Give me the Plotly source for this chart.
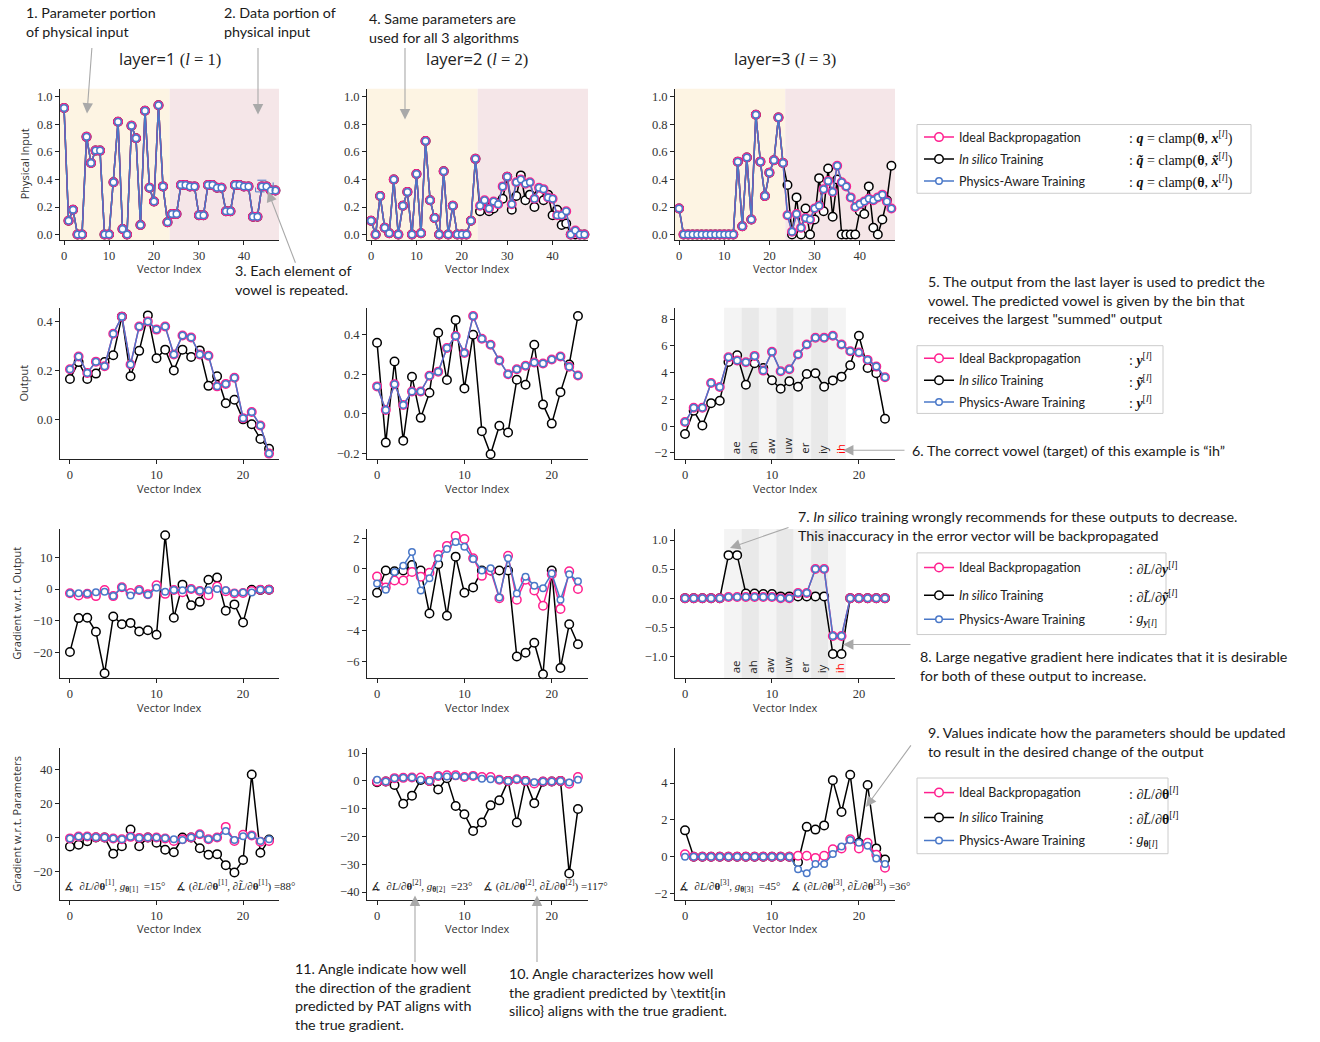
import plotly.graph_objects as go
from plotly.subplots import make_subplots

W, H = 1320, 1042

# ---------------- data ----------------
idx48 = list(range(48))
idx24 = list(range(24))

# Row 1: physical input (parameter portion 0..23, data portion 24..47)
in1_param = [0.92, 0.10, 0.18, 0.00, 0.00, 0.71, 0.52, 0.61, 0.61, 0.00, 0.00, 0.38,
             0.82, 0.04, 0.00, 0.79, 0.70, 0.07, 0.90, 0.34, 0.24, 0.94, 0.35, 0.09]
in1_data = [0.15, 0.15, 0.36, 0.36, 0.35, 0.35, 0.14, 0.14, 0.36, 0.36, 0.34, 0.34,
            0.17, 0.17, 0.36, 0.36, 0.35, 0.35, 0.13, 0.13, 0.35, 0.35, 0.32, 0.32]

in2_param = [0.10, 0.00, 0.28, 0.05, 0.01, 0.40, 0.00, 0.21, 0.31, 0.00, 0.44, 0.01,
             0.68, 0.25, 0.12, 0.00, 0.46, 0.00, 0.21, 0.00, 0.00, 0.00, 0.10, 0.55]
in2_data_ideal = [0.21, 0.25, 0.19, 0.24, 0.22, 0.35, 0.42, 0.22, 0.38, 0.40, 0.37, 0.38,
                  0.26, 0.34, 0.33, 0.27, 0.26, 0.14, 0.14, 0.17, 0.00, 0.03, 0.00, 0.00]
in2_data_insilico = [0.17, 0.24, 0.17, 0.19, 0.23, 0.26, 0.42, 0.18, 0.28, 0.43, 0.25, 0.29,
                     0.20, 0.29, 0.25, 0.29, 0.14, 0.18, 0.07, 0.08, 0.00, 0.00, 0.00, 0.00]

in3_param = [0.19, 0.00, 0.00, 0.00, 0.00, 0.00, 0.00, 0.00, 0.00, 0.00, 0.00, 0.00,
             0.00, 0.53, 0.06, 0.56, 0.11, 0.87, 0.53, 0.28, 0.45, 0.54, 0.85, 0.52]
in3_data_ideal = [0.14, 0.02, 0.15, 0.05, 0.12, 0.11, 0.19, 0.21, 0.33, 0.39, 0.31, 0.50,
                  0.38, 0.35, 0.27, 0.20, 0.22, 0.24, 0.26, 0.25, 0.27, 0.29, 0.24, 0.19]
in3_data_insilico = [0.36, 0.00, 0.27, 0.00, 0.19, 0.00, 0.11, 0.41, 0.17, 0.48, 0.13, 0.40,
                     0.00, 0.00, 0.00, 0.00, 0.17, 0.15, 0.35, 0.05, 0.00, 0.11, 0.25, 0.50]

# Row 2: outputs
out1_ideal = [0.205, 0.257, 0.19, 0.236, 0.217, 0.35, 0.42, 0.224, 0.38, 0.40, 0.367, 0.38,
              0.265, 0.343, 0.335, 0.265, 0.26, 0.135, 0.145, 0.17, 0.005, 0.03, -0.025, -0.14]
out1_insilico = [0.165, 0.234, 0.165, 0.187, 0.234, 0.262, 0.42, 0.176, 0.28, 0.425, 0.25, 0.285,
                 0.20, 0.285, 0.255, 0.282, 0.137, 0.176, 0.066, 0.08, 0.0, -0.02, -0.08, -0.12]
out2_ideal = [0.139, 0.02, 0.15, 0.045, 0.113, 0.113, 0.193, 0.213, 0.333, 0.394, 0.308, 0.495,
              0.38, 0.349, 0.27, 0.20, 0.226, 0.243, 0.26, 0.255, 0.275, 0.29, 0.238, 0.194]
out2_insilico = [0.36, -0.145, 0.265, -0.135, 0.188, -0.02, 0.107, 0.41, 0.171, 0.475, 0.129, 0.40,
                 -0.087, -0.204, -0.06, -0.094, 0.173, 0.147, 0.349, 0.047, -0.049, 0.11, 0.25, 0.495]
out3_ideal = [0.31, 1.37, 1.38, 3.23, 2.93, 5.15, 4.9, 4.78, 5.25, 4.15, 5.55, 4.1,
              4.25, 5.35, 6.1, 6.6, 6.6, 6.75, 6.1, 5.6, 5.5, 4.95, 4.45, 3.65]
out3_insilico = [-0.59, 1.15, 0.05, 1.72, 1.9, 4.8, 5.3, 3.1, 4.7, 4.35, 3.43, 2.8,
                 3.35, 2.95, 3.9, 3.95, 2.95, 3.42, 3.7, 4.55, 6.75, 4.35, 3.95, 0.55]

# Row 3: gradient w.r.t. output
gout1_ideal = [-1.3, -2.0, -1.5, -2.2, -0.3, -2.2, 0.6, -1.2, -0.3, -1.6, 1.2, -1.5,
               -0.3, -1.0, 0.0, -0.6, -1.9, 0.8, -0.7, -1.4, -1.2, -0.6, -0.2, -0.2]
gout1_pat = [-1.3, -1.3, -1.4, -1.0, -0.8, -2.2, 0.6, -2.0, -0.4, -1.8, 0.4, -0.8,
             -0.3, -0.4, 0.0, -0.5, -0.4, 0.0, -0.4, -1.2, -1.1, -1.1, -0.2, -0.2]
gout1_insilico = [-19.7, -9.1, -9.0, -13.4, -26.4, -8.6, -11.0, -10.6, -13.3, -12.9, -14.3, 16.9,
                  -9.0, 1.4, -5.1, -4.0, 2.9, 3.6, -6.8, -4.8, -10.5, -0.2, -0.3, -0.2]
gout2_ideal = [-0.49, -1.2, -0.75, -0.75, -0.2, -0.5, -0.25, 0.9, 1.5, 2.15, 1.95, 0.7,
               -0.45, -0.1, -1.9, 0.85, -2.0, -0.7, -1.4, -2.4, -0.35, -2.6, -0.15, -1.3]
gout2_pat = [-0.94, -1.35, -0.2, 0.2, 1.1, -1.4, -0.6, 0.7, 1.3, 1.75, 1.45, 0.65,
             -0.1, 0.05, -1.85, 0.7, -1.6, -0.5, -1.1, -1.25, -0.3, -2.0, -0.35, -0.8]
gout2_insilico = [-1.55, -0.1, -0.15, -0.1, 0.25, -0.1, -2.9, 0.3, -3.05, 0.8, -1.55, -1.2,
                  -0.1, -0.1, -0.1, -0.1, -5.7, -5.45, -4.8, -6.85, -0.1, -6.45, -3.6, -4.9]
gout3_ideal = [0, 0, 0, 0, 0, 0.02, 0.02, 0.02, 0.02, 0.02, 0.02, 0.0,
               0.0, 0.09, 0.09, 0.5, 0.5, -0.65, -0.65, 0, 0, 0, 0, 0]
gout3_pat = [0, 0, 0, 0, 0, 0.02, 0.02, 0.02, 0.02, 0.02, 0.02, 0.0,
             0.0, 0.09, 0.09, 0.5, 0.5, -0.65, -0.65, 0, 0, 0, 0, 0]
gout3_insilico = [0, 0, 0, 0, 0, 0.74, 0.74, 0.08, 0.08, 0.07, 0.07, 0.03,
                  0.03, 0.03, 0.03, 0.03, 0.03, -0.96, -0.96, 0, 0, 0, 0, 0]

# Row 4: gradient w.r.t. parameters
gpar1_ideal = [-0.5, 0.6, 0.6, 0.2, 0.0, -0.6, -1.0, 0.4, -0.2, 0.0, 0.0, -0.6,
               -2.0, -1.0, 0.0, 2.0, -1.0, 0.0, 6.3, -2.0, 1.6, 1.2, -2.5, -2.0]
gpar1_pat = [-0.5, 0.6, 0.6, 0.2, 0.0, -0.6, -1.0, 0.4, -0.2, 0.0, 0.0, -0.4,
             -1.0, -1.5, 0.0, 2.0, -1.0, 0.0, 3.9, -1.5, 0.8, 1.2, -2.0, -1.0]
gpar1_insilico = [-5.3, -4.2, -2.2, 0.0, 0.0, -9.6, -5.1, 4.7, -5.1, 0.0, -3.0, -7.2,
                  -8.7, 0.0, 0.0, -6.3, -10.2, -9.8, -16.3, -20.6, -13.3, 37.2, -9.0, -1.2]
gpar2_ideal = [-0.2, -0.2, 1.0, 1.1, 1.2, 1.2, 0.0, 1.8, 2.0, 2.0, 1.4, 1.8,
               1.4, 1.4, 0.4, 0.0, 0.6, 0.0, -0.9, -0.2, -0.2, 0.0, -1.0, 1.4]
gpar2_pat = [0.4, -0.2, 1.0, 1.1, 1.2, 0.4, 0.0, 1.8, 1.6, 1.8, 1.4, 1.8,
             0.8, 0.6, 0.4, 0.0, 0.6, 0.0, -0.5, -0.2, -0.2, 0.0, -0.6, 0.4]
gpar2_insilico = [-0.5, -0.2, -1.5, -8.2, -5.3, 0.3, 0.0, -3.1, 1.0, -9.0, -12.0, -18.0,
                  -15.0, -8.8, -7.0, 0.0, -15.0, 0.0, -8.0, -0.3, -0.2, 0.0, -33.3, -10.1]
gpar3_ideal = [0.13, 0, 0, 0, 0, 0, 0, 0, 0, 0, 0, 0,
               0, 0.05, 0.05, -0.07, 0.05, 0.4, 0.45, 0.95, 0.45, 0.75, 0.1, -0.6]
gpar3_pat = [0.0, 0, 0, 0, 0, 0, 0, 0, 0, 0, 0, 0,
             0, -0.68, -0.9, -0.4, -0.4, 0.15, 0.55, 0.9, 0.75, 0.6, -0.1, -0.4]
gpar3_insilico = [1.43, 0, 0, 0, 0, 0, 0, 0, 0, 0, 0, 0,
                  0, -0.3, 1.62, 1.47, 1.7, 4.15, 2.43, 4.45, 0.75, 3.9, 0.45, -0.15]

vowels = ["ae", "ah", "aw", "uw", "er", "iy", "ih"]
vowel_start = 4.5
target_vowel = "ih"

angles_pat = [15, 23, 45]
angles_insilico = [88, 117, 36]

series_names = ["Ideal Backpropagation", "<i>In silico</i> Training", "Physics-Aware Training"]
row_titles = ["Physical Input", "Output", "Gradient w.r.t. Output", "Gradient w.r.t. Parameters"]

# panel data: (ideal, insilico, pat)
panels = {
    (1, 1): (in1_param + in1_data, in1_param + in1_data, in1_param + in1_data),
    (1, 2): (in2_param + in2_data_ideal, in2_param + in2_data_insilico, in2_param + in2_data_ideal),
    (1, 3): (in3_param + in3_data_ideal, in3_param + in3_data_insilico, in3_param + in3_data_ideal),
    (2, 1): (out1_ideal, out1_insilico, out1_ideal),
    (2, 2): (out2_ideal, out2_insilico, out2_ideal),
    (2, 3): (out3_ideal, out3_insilico, out3_ideal),
    (3, 1): (gout1_ideal, gout1_insilico, gout1_pat),
    (3, 2): (gout2_ideal, gout2_insilico, gout2_pat),
    (3, 3): (gout3_ideal, gout3_insilico, gout3_pat),
    (4, 1): (gpar1_ideal, gpar1_insilico, gpar1_pat),
    (4, 2): (gpar2_ideal, gpar2_insilico, gpar2_pat),
    (4, 3): (gpar3_ideal, gpar3_insilico, gpar3_pat),
}

# ---------------- layout geometry ----------------
col_px = [(60, 279), (367, 588), (675, 895)]
row_px = [(87, 239), (307, 459), (529, 679), (749, 901)]
xr_row1 = [-0.9, 47.8]
xr_rest = [-1.15, 24.15]
yranges = {
    (1, 1): [-0.04, 1.06], (1, 2): [-0.04, 1.06], (1, 3): [-0.04, 1.06],
    (2, 1): [-0.163, 0.456], (2, 2): [-0.229, 0.536], (2, 3): [-2.47, 8.84],
    (3, 1): [-28.0, 18.85], (3, 2): [-7.12, 2.6], (3, 3): [-1.38, 1.19],
    (4, 1): [-36.6, 52.8], (4, 2): [-42.7, 11.8], (4, 3): [-2.33, 5.9],
}
ydticks = {
    (1, 1): (0.2, ".1f"), (1, 2): (0.2, ".1f"), (1, 3): (0.2, ".1f"),
    (2, 1): (0.2, ".1f"), (2, 2): (0.2, ".1f"), (2, 3): (2, "d"),
    (3, 1): (10, "d"), (3, 2): (2, "d"), (3, 3): (0.5, ".1f"),
    (4, 1): (20, "d"), (4, 2): (10, "d"), (4, 3): (2, "d"),
}

PINK = "#ff1f8f"
BLACK = "#000000"
BLUE = "#4a78c8"
GRAY_ARROW = "#a9a9a9"
SERIF = "Liberation Serif"
SANS = "Open Sans"
NOTE = "Lato"


def px_x(x):
    return x / W


def px_y(y):
    return 1 - y / H


fig = make_subplots(rows=4, cols=3)

axis_style = dict(showline=True, linecolor="#222", linewidth=1, ticks="outside", ticklen=4,
                  tickwidth=1, tickcolor="#222", showgrid=False, zeroline=False, mirror=False,
                  tickfont=dict(family=SERIF, size=12.5, color="#333"))

legend_rows_y = [(136, 158, 180), (358, 380, 402), (568, 596, 620), (794, 819, 842)]

layout_upd = {}
shapes = []
annotations = []

for r in range(1, 5):
    for c in range(1, 4):
        i = (r - 1) * 3 + c
        xa = "xaxis" if i == 1 else f"xaxis{i}"
        ya = "yaxis" if i == 1 else f"yaxis{i}"
        xref = "x" if i == 1 else f"x{i}"
        yref = "y" if i == 1 else f"y{i}"
        x0, x1 = col_px[c - 1]
        y0, y1 = row_px[r - 1]
        xr = xr_row1 if r == 1 else xr_rest
        dt, fmt = ydticks[(r, c)]
        layout_upd[xa] = dict(axis_style, domain=[px_x(x0), px_x(x1)], range=xr,
                              tick0=0, dtick=10, anchor=yref)
        layout_upd[ya] = dict(axis_style, domain=[px_y(y1), px_y(y0)], range=yranges[(r, c)],
                              tick0=0, dtick=dt, tickformat=fmt, anchor=xref)

        # backgrounds
        if r == 1:
            shapes.append(dict(type="rect", xref=xref, yref=f"{yref} domain", x0=xr[0], x1=23.5,
                               y0=0, y1=1, fillcolor="#fdf4e3", line_width=0, layer="below"))
            shapes.append(dict(type="rect", xref=xref, yref=f"{yref} domain", x0=23.5, x1=xr[1],
                               y0=0, y1=1, fillcolor="#f5e6e8", line_width=0, layer="below"))
        if c == 3 and r in (2, 3):
            for k, v in enumerate(vowels):
                vx0 = vowel_start + 2 * k
                shapes.append(dict(type="rect", xref=xref, yref=f"{yref} domain", x0=vx0, x1=vx0 + 2,
                                   y0=0, y1=1, fillcolor="#f4f4f4" if k % 2 == 0 else "#e9e9e9",
                                   line_width=0, layer="below"))
                annotations.append(dict(xref=xref, yref=f"{yref} domain", x=vx0 + 1.3, y=0.02,
                                        text=v, textangle=-90, showarrow=False, xanchor="center",
                                        yanchor="bottom",
                                        font=dict(family=SANS, size=11.5,
                                                  color="red" if v == target_vowel else "#222")))

        ideal, insil, pat = panels[(r, c)]
        xs = idx48 if r == 1 else idx24
        show = (c == 1)
        specs = [
            (insil, BLACK, 8.5, 1),
            (ideal, PINK, 8.5, 0),
            (pat, BLUE, 6.5, 2),
        ]
        for ys, col, ms, k in specs:
            n = (r - 1) * 3 + k + 1
            lg = "legend" if n == 1 else f"legend{n}"
            fig.add_trace(go.Scatter(
                x=xs, y=ys, mode="lines+markers", name=series_names[k],
                line=dict(color=col, width=1.5),
                marker=dict(symbol="circle", size=ms, color="white", line=dict(color=col, width=1.5)),
                showlegend=show, legend=lg, cliponaxis=False), row=r, col=c)

        # x title
        annotations.append(dict(xref="paper", yref="paper", x=px_x((x0 + x1) / 2), y=px_y(y1 + 29),
                                text="Vector Index", showarrow=False, xanchor="center", yanchor="middle",
                                font=dict(family=SANS, size=11, color="#333")))

# legends: one per entry
for r in range(4):
    for k in range(3):
        n = r * 3 + k + 1
        lg = "legend" if n == 1 else f"legend{n}"
        layout_upd[lg] = dict(x=px_x(919), y=px_y(legend_rows_y[r][k]), xanchor="left", yanchor="middle",
                              bgcolor="rgba(0,0,0,0)", borderwidth=0, itemwidth=30,
                              font=dict(family=NOTE, size=12.5, color="#222"))

legend_boxes = [(917, 123, 1251, 192), (917, 345, 1163, 413), (917, 553, 1166, 635), (917, 779, 1168, 855)]
for bx0, by0, bx1, by1 in legend_boxes:
    shapes.append(dict(type="rect", xref="paper", yref="paper", x0=px_x(bx0), x1=px_x(bx1),
                       y0=px_y(by1), y1=px_y(by0), line=dict(color="#cccccc", width=1),
                       fillcolor="rgba(255,255,255,0)", layer="above"))

L = "<i>l</i>"
math_texts = [
    [f": <b><i>q</i></b> = clamp(<b>θ</b>, <b><i>x</i></b><sup>[{L}]</sup>)",
     f": <b><i>q̃</i></b> = clamp(<b>θ</b>, <b><i>x̃</i></b><sup>[{L}]</sup>)",
     f": <b><i>q</i></b> = clamp(<b>θ</b>, <b><i>x</i></b><sup>[{L}]</sup>)"],
    [f": <b><i>y</i></b><sup>[{L}]</sup>", f": <b><i>ỹ</i></b><sup>[{L}]</sup>", f": <b><i>y</i></b><sup>[{L}]</sup>"],
    [f": ∂<i>L</i>/∂<b><i>y</i></b><sup>[{L}]</sup>", f": ∂<i>L̃</i>/∂<b><i>ỹ</i></b><sup>[{L}]</sup>",
     f": <i>g</i><sub><b><i>y</i></b>[{L}]</sub>"],
    [f": ∂<i>L</i>/∂<b>θ</b><sup>[{L}]</sup>", f": ∂<i>L̃</i>/∂<b>θ</b><sup>[{L}]</sup>",
     f": <i>g</i><sub><b>θ</b>[{L}]</sub>"],
]
for r in range(4):
    for k in range(3):
        annotations.append(dict(xref="paper", yref="paper", x=px_x(1127), y=px_y(legend_rows_y[r][k]),
                                text=math_texts[r][k], showarrow=False, xanchor="left", yanchor="middle",
                                font=dict(family=SERIF, size=14, color="#111")))

# layer titles
title_x = [170, 477, 785]
for c in range(3):
    annotations.append(dict(xref="paper", yref="paper", x=px_x(title_x[c]), y=px_y(57),
                            text=(f'layer={c+1} <span style="font-family:{SERIF}">'
                                  f'(<i>l</i> = {c+1})</span>'),
                            showarrow=False, xanchor="center", yanchor="middle",
                            font=dict(family=SANS, size=16.5, color="#222")))

# y titles
ytitle_pos = [(24, 163), (24, 383), (17, 604), (17, 825)]
for r in range(4):
    annotations.append(dict(xref="paper", yref="paper", x=px_x(ytitle_pos[r][0]), y=px_y(ytitle_pos[r][1]),
                            text=row_titles[r], textangle=-90, showarrow=False,
                            xanchor="center", yanchor="middle",
                            font=dict(family=SANS, size=11, color="#333")))

# angle annotations
for c in range(3):
    x0 = col_px[c][0]
    lay = c + 1
    left = (f"∡  ∂<i>L</i>/∂<b>θ</b><sup>[{lay}]</sup>, <i>g</i><sub><b>θ</b>[{lay}]</sub>"
            f"  ={angles_pat[c]}°")
    right = (f"∡ (∂<i>L</i>/∂<b>θ</b><sup>[{lay}]</sup>, ∂<i>L̃</i>/∂<b>θ</b><sup>[{lay}]</sup>)"
             f" ={angles_insilico[c]}°")
    annotations.append(dict(xref="paper", yref="paper", x=px_x(x0 + 2), y=px_y(887), text=left,
                            showarrow=False, xanchor="left", yanchor="middle",
                            font=dict(family=SERIF, size=11, color="#222")))
    annotations.append(dict(xref="paper", yref="paper", x=px_x(x0 + 114), y=px_y(887), text=right,
                            showarrow=False, xanchor="left", yanchor="middle",
                            font=dict(family=SERIF, size=11, color="#222")))

# dashed box (repeated vowel element)
shapes.append(dict(type="rect", xref="x", yref="y", x0=42.6, x1=46.5, y0=0.31, y1=0.395,
                   line=dict(color=BLUE, width=1, dash="dash"), fillcolor="rgba(0,0,0,0)"))

# notes
notes = [
    (24, 0, "1. Parameter portion<br>of physical input"),
    (222, 0, "2. Data portion of<br>physical input"),
    (367, 6, "4. Same parameters are<br>used for all 3 algorithms"),
    (233, 259, "3. Each element of<br>vowel is repeated."),
    (926, 270, "5. The output from the last layer is used to predict the<br>vowel. The predicted vowel is given by the bin that<br>receives the largest \"summed\" output"),
    (910, 440, "6. The correct vowel (target) of this example is “ih”"),
    (796, 506, "7. <i>In silico</i> training wrongly recommends for these outputs to decrease.<br>This inaccuracy in the error vector will be backpropagated"),
    (918, 646, "8. Large negative gradient here indicates that it is desirable<br>for both of these output to increase."),
    (926, 723, "9. Values indicate how the parameters should be updated<br>to result in the desired change of the output"),
    (293, 960, "11. Angle indicate how well<br>the direction of the gradient<br>predicted by PAT aligns with<br>the true gradient."),
    (507, 965, "10. Angle characterizes how well<br>the gradient predicted by \\textit{in<br>silico} aligns with the true gradient."),
]
for nx, ny, t in notes:
    annotations.append(dict(xref="paper", yref="paper", x=px_x(nx), y=px_y(ny), text=t, showarrow=False,
                            xanchor="left", yanchor="top", align="left",
                            font=dict(family=NOTE, size=14.3, color="#1a1a1a")))

arrows = [
    ((87, 112), (92, 45)),
    ((258, 113), (258, 45)),
    ((405, 118), (405, 45)),
    ((268, 190), (296, 263)),
    ((843, 450), (906, 450)),
    ((730, 548), (790, 527)),
    ((843, 645), (912, 645)),
    ((866, 808), (912, 745)),
    ((415, 897), (415, 965)),
    ((537, 897), (537, 965)),
]
for (hx, hy), (tx, ty) in arrows:
    annotations.append(dict(xref="paper", yref="paper", x=px_x(hx), y=px_y(hy), ax=tx - hx, ay=ty - hy,
                            text="", showarrow=True, arrowhead=2, arrowsize=1.9, arrowwidth=1.1,
                            arrowcolor=GRAY_ARROW, standoff=0, startstandoff=0))

layout_upd.update(dict(width=W, height=H, margin=dict(l=0, r=0, t=0, b=0),
                       paper_bgcolor="white", plot_bgcolor="white",
                       shapes=shapes, annotations=annotations))
fig.update_layout(**layout_upd)

fig.write_html("out.html", config={"displayModeBar": False},
               post_script="document.body.style.margin='0';")
